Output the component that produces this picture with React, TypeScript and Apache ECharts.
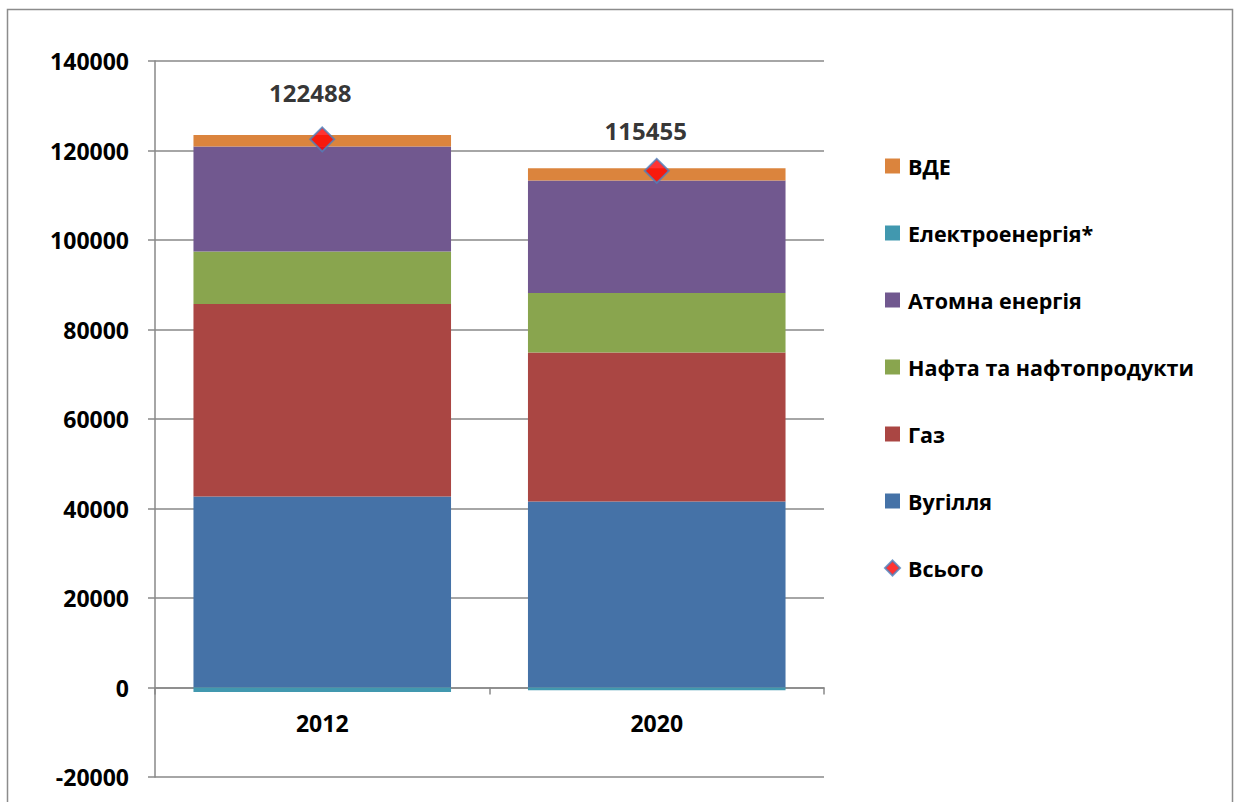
import React, { useEffect, useRef } from "react";
import * as echarts from "echarts";

const categories = ["2012", "2020"];
const coal = [42700, 41560];
const gas = [42980, 33300];
const oil = [11750, 13270];
const atomic = [23460, 25160];
const electricity = [-1002, -600];
const vde = [2600, 2765];
const total = [122488, 115455];
const totalLabelOffsets = [
  [-12, -22],
  [-11, -15],
];

const FONT = "Open Sans";

export default function App() {
  const ref = useRef<HTMLDivElement>(null);
  useEffect(() => {
    if (!ref.current) return;
    const chart = echarts.init(ref.current, undefined, { renderer: "svg" });
    const barBase = (name: string, data: number[], color: string) => ({
      name,
      type: "bar",
      stack: "total",
      data,
      barCategoryGap: "23%",
      itemStyle: { color },
      emphasis: { disabled: true },
    });
    chart.setOption({
      animation: false,
      backgroundColor: "#ffffff",
      textStyle: { fontFamily: FONT },
      graphic: [
        {
          type: "rect",
          shape: { x: 7.5, y: 9.5, width: 1225, height: 800 },
          style: { fill: "none", stroke: "#8c8c8c", lineWidth: 1.5 },
          silent: true,
        },
      ],
      grid: {
        left: 155,
        right: 411,
        top: 61,
        bottom: 25,
        containLabel: false,
        outerBoundsMode: "none",
      },
      legend: {
        orient: "vertical",
        left: 884,
        top: 154,
        padding: 0,
        icon: "rect",
        itemWidth: 15,
        itemHeight: 15,
        itemGap: 43,
        selectedMode: false,
        textStyle: {
          fontFamily: FONT,
          fontWeight: "bold",
          fontSize: 21.5,
          color: "#000",
          lineHeight: 24,
          padding: [0, 0, 0, 3],
        },
        data: [
          "ВДЕ",
          "Електроенергія*",
          "Атомна енергія",
          "Нафта та нафтопродукти",
          "Газ",
          "Вугілля",
          { name: "Всього", icon: "diamond" },
        ],
      },
      xAxis: {
        type: "category",
        data: categories,
        axisLine: { show: true, onZero: true, lineStyle: { color: "#888", width: 1.5 } },
        axisTick: { show: true, length: 7, lineStyle: { color: "#888", width: 1.5 } },
        axisLabel: {
          fontFamily: FONT,
          fontWeight: "bold",
          fontSize: 23,
          color: "#000",
          margin: -66,
        },
      },
      yAxis: {
        type: "value",
        min: -20000,
        max: 140000,
        interval: 20000,
        axisLine: { show: true, lineStyle: { color: "#888", width: 1.5 } },
        axisTick: { show: true, length: 7, lineStyle: { color: "#888", width: 1.5 } },
        splitLine: { show: true, lineStyle: { color: "#888", width: 1.5 } },
        axisLabel: {
          fontFamily: FONT,
          fontWeight: "bold",
          fontSize: 23,
          color: "#000",
          margin: 26,
          formatter: (v: number) => String(v),
        },
      },
      series: [
        barBase("Вугілля", coal, "#4572A7"),
        barBase("Газ", gas, "#AA4643"),
        barBase("Нафта та нафтопродукти", oil, "#89A54E"),
        barBase("Атомна енергія", atomic, "#71588F"),
        barBase("Електроенергія*", electricity, "#4198AF"),
        barBase("ВДЕ", vde, "#DB843D"),
        {
          name: "Всього",
          type: "scatter",
          symbol: "diamond",
          symbolSize: 24,
          z: 10,
          itemStyle: { color: "#FF0000", borderColor: "#4F81BD", borderWidth: 2 },
          emphasis: { disabled: true },
          label: {
            show: true,
            position: "top",
            distance: 0,
            formatter: (p: any) => String(p.value),
            fontFamily: FONT,
            fontWeight: "bold",
            fontSize: 24,
            color: "#000000",
            textBorderWidth: 0,
          },
          data: total.map((v, i) => ({
            value: v,
            label: { offset: totalLabelOffsets[i] },
          })),
        },
      ],
    });
    return () => chart.dispose();
  }, []);
  return (
    <div
      ref={ref}
      style={{ position: "absolute", left: 0, top: 0, width: 1235, height: 802 }}
    />
  );
}
